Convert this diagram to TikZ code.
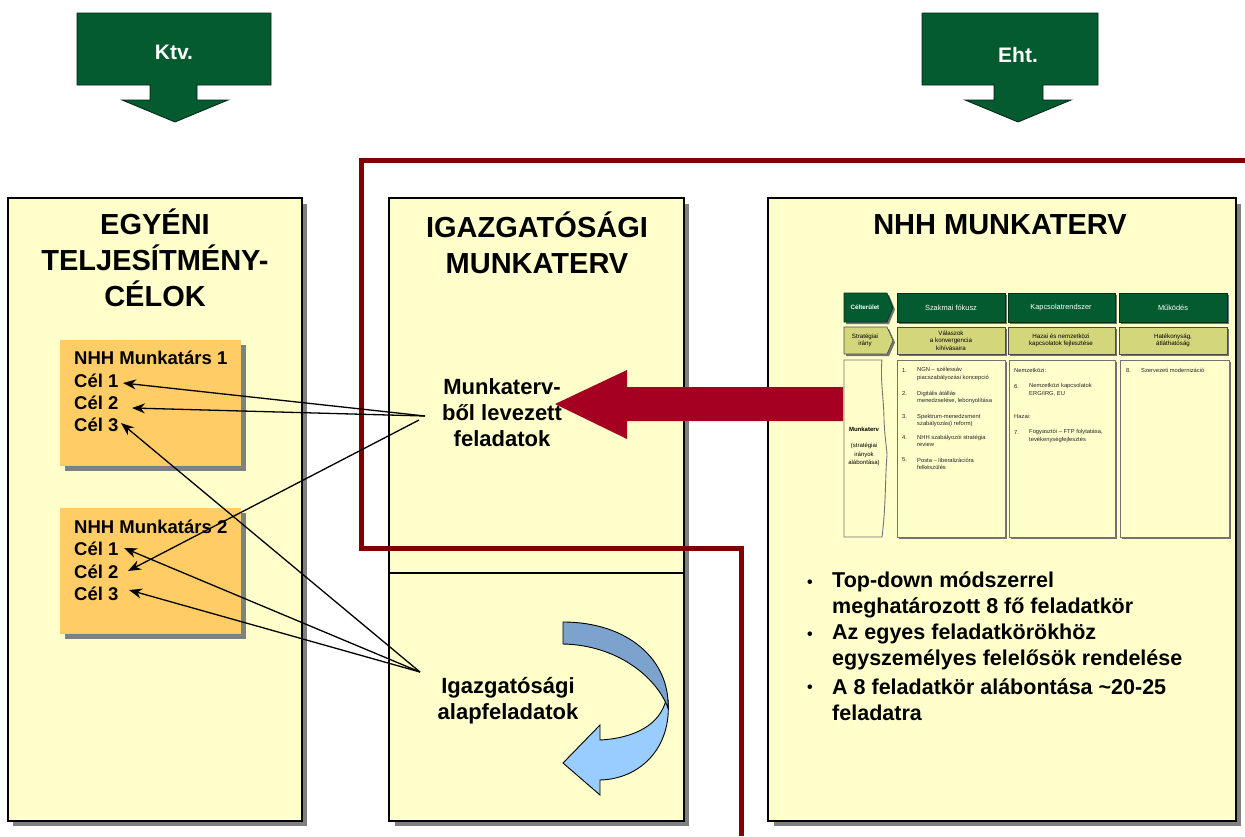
\documentclass[tikz,border=0pt]{standalone}
\usepackage{fontspec}
\setmainfont{Liberation Sans}
\usetikzlibrary{arrows.meta}
\definecolor{paleyellow}{HTML}{FFFFCC}
\definecolor{orangebox}{HTML}{FFCC66}
\definecolor{darkgreen}{HTML}{035B2F}
\definecolor{linered}{HTML}{800000}
\definecolor{arrowred}{HTML}{A50021}
\definecolor{shadowgray}{HTML}{808080}
\definecolor{olivecell}{HTML}{D4D67C}
\definecolor{bluedark}{HTML}{7BA3CD}
\definecolor{bluelight}{HTML}{99CCFF}
\begin{document}
\begin{tikzpicture}[x=1pt,y=-1pt,
  bigbox/.style={draw=black,line width=1.5pt,fill=paleyellow},
  shade/.style={fill=shadowgray},
  title/.style={font=\fontsize{29}{36}\selectfont\bfseries,align=center,inner sep=0pt},
  goal/.style={font=\fontsize{18.5}{22}\selectfont\bfseries,anchor=base west,inner sep=0pt},
  midtext/.style={font=\fontsize{22}{26}\selectfont\bfseries,align=center,inner sep=0pt},
  bullettext/.style={font=\fontsize{21.5}{26}\selectfont\bfseries,align=left,anchor=west,inner sep=0pt},
  bulletdot/.style={font=\fontsize{16}{16}\selectfont\bfseries,inner sep=0pt},
  lawarrow/.style={fill=darkgreen,draw=black!60!darkgreen,line width=0.8pt},
  lawtext/.style={font=\fontsize{21}{24}\selectfont\bfseries,text=white,inner sep=0pt},
  link/.style={line width=1.3pt,-{Stealth[length=13pt,width=10pt]}},
  tiny/.style={font=\fontsize{5.8}{7.6}\selectfont,inner sep=0pt,align=left,anchor=west,text=black!85},
  tinyc/.style={font=\fontsize{6.2}{7.6}\selectfont,inner sep=0pt,align=center},
  greencell/.style={fill=darkgreen,draw=black!50!darkgreen,line width=0.6pt},
  olivecellst/.style={fill=olivecell,draw=black!70,line width=0.6pt},
  bodycell/.style={fill=paleyellow,draw=black!55,line width=0.9pt},
  cellshadow/.style={fill=black!55},
]
\useasboundingbox (0,0) rectangle (1245,836);
\fill[white] (0,0) rectangle (1245,836);

% ---- law arrows on top
\draw[lawarrow] (77,13) -- (271,13) -- (271,85) -- (197,85) -- (197,100) -- (228,100)
  -- (175,122) -- (122,100) -- (150,100) -- (150,85) -- (77,85) -- cycle;
\node[lawtext] (ktv) at (174,52) {Ktv.};
\draw[lawarrow] (922,13) -- (1098,13) -- (1098,85) -- (1043,85) -- (1043,100) -- (1071,100)
  -- (1018,122) -- (965,100) -- (994,100) -- (994,85) -- (922,85) -- cycle;
\node[lawtext] (eht) at (1018,55) {Eht.};

% ---- big boxes with shadows
\fill[shade] (13,204) rectangle (307,826);
\draw[bigbox] (8,198) rectangle (302,821);
\fill[shade] (395,204) rectangle (689,826);
\draw[bigbox] (389,198) rectangle (684,821);
\draw[line width=1.5pt] (389,573) -- (684,573);
\fill[shade] (774,204) rectangle (1241,826);
\draw[bigbox] (768,198) rectangle (1236,821);

% ---- titles
\node[title] (t1) at (155,258) {EGYÉNI\\TELJESÍTMÉNY-\\CÉLOK};
\node[title] (t2) at (537,243) {IGAZGATÓSÁGI\\MUNKATERV};
\node[title] (t3) at (1000,225) {NHH MUNKATERV};

% ---- orange boxes
\fill[shade] (65,345) rectangle (246,471);
\fill[orangebox] (60,340) rectangle (241,466);
\fill[shade] (65,513) rectangle (246,639);
\fill[orangebox] (60,508) rectangle (241,634);

\node[goal] (m1) at (74,364.5) {NHH Munkatárs 1};
\node[goal] (c11) at (74,387.5) {Cél 1};
\node[goal] (c12) at (74,409.5) {Cél 2};
\node[goal] (c13) at (74,431.5) {Cél 3};
\node[goal] (m2) at (74,533.5) {NHH Munkatárs 2};
\node[goal] (c21) at (74,555.5) {Cél 1};
\node[goal] (c22) at (74,578.5) {Cél 2};
\node[goal] (c23) at (74,600.5) {Cél 3};

% ---- middle texts
\node[midtext] (mt) at (502,413) {Munkaterv-\\ből levezett\\feladatok};
\node[midtext] (alap) at (508,701) {Igazgatósági\\alapfeladatok};

% ---- curved arrow
\draw[fill=bluelight,line width=0.9pt] (668,700) .. controls (672,748) and (640,779) .. (600,780)
  -- (600,795) -- (563,763) -- (600,725) -- (600,740)
  .. controls (636,738) and (660,724) .. (666,700) -- cycle;
\draw[fill=bluedark,line width=0.9pt] (563,622) .. controls (628,622) and (670,660) .. (668,708)
  .. controls (656,676) and (616,645) .. (563,644) -- cycle;

% ---- table in NHH MUNKATERV
% row 1
\fill[cellshadow] (846,295) -- (889,295) -- (895,309.5) -- (889,324) -- (846,324) -- cycle;
\draw[greencell] (844,293) -- (887,293) -- (893,307.5) -- (887,322) -- (844,322) -- cycle;
\fill[cellshadow] (899,295) rectangle (1007,324);
\draw[greencell] (897,293) rectangle (1005,322);
\fill[cellshadow] (1010,295) rectangle (1117,324);
\draw[greencell] (1008,293) rectangle (1115,322);
\fill[cellshadow] (1121,295) rectangle (1229,324);
\draw[greencell] (1119,293) rectangle (1227,322);
\node[tinyc,text=white,font=\fontsize{6.2}{7.6}\selectfont\bfseries] (h0) at (865,307.5) {Célterület};
\node[tinyc,text=white,font=\fontsize{7.4}{9}\selectfont] (h1) at (951,307.5) {Szakmai fókusz};
\node[tinyc,text=white,font=\fontsize{7.4}{9}\selectfont] (h2) at (1061,307.5) {Kapcsolatrendszer};
\node[tinyc,text=white,font=\fontsize{7.4}{9}\selectfont] (h3) at (1173,307.5) {Működés};
% row 2
\fill[cellshadow] (846,329) -- (889,329) -- (895,342.5) -- (889,356) -- (846,356) -- cycle;
\draw[olivecellst] (844,327) -- (887,327) -- (893,340.5) -- (887,354) -- (844,354) -- cycle;
\fill[cellshadow] (899,329) rectangle (1007,356);
\draw[olivecellst] (897,327) rectangle (1005,354);
\fill[cellshadow] (1010,329) rectangle (1117,356);
\draw[olivecellst] (1008,327) rectangle (1115,354);
\fill[cellshadow] (1121,329) rectangle (1229,356);
\draw[olivecellst] (1119,327) rectangle (1227,354);
\node[tinyc] (s0) at (865,340.5) {Stratégiai\\irány};
\node[tinyc] (s1) at (951,340.5) {Válaszok\\a konvergencia\\kihívásaira};
\node[tinyc] (s2) at (1061,340.5) {Hazai és nemzetközi\\kapcsolatok fejlesztése};
\node[tinyc] (s3) at (1173,340.5) {Hatékonyság,\\átláthatóság};
% row 3
\draw[bodycell] (844,360) -- (882,360) .. controls (880,380) and (884,400) .. (884,420)
  .. controls (885,440) and (887,450) .. (887,455)
  .. controls (885,480) and (886,505) .. (882,537) -- (844,537) -- cycle;
\fill[cellshadow] (899,362) rectangle (1007,539);
\draw[bodycell] (897,360) rectangle (1005,537);
\fill[cellshadow] (1011,362) rectangle (1117,539);
\draw[bodycell] (1009,360) rectangle (1115,537);
\fill[cellshadow] (1122,362) rectangle (1231,539);
\draw[bodycell] (1120,360) rectangle (1229,537);
\node[tinyc,font=\fontsize{6}{8.2}\selectfont\bfseries] (w0) at (864,429) {Munkaterv};
\node[tinyc,font=\fontsize{6}{8.2}\selectfont] (w1) at (864,454.5) {(stratégiai\\irányok\\alábontása)};

\node[tiny] (n1) at (902,370) {1.};
\node[tiny] (i1) at (917,374) {NGN – szélessáv\\piacszabályozási koncepció};
\node[tiny] (n2) at (902,393) {2.};
\node[tiny] (i2) at (917,397.5) {Digitális átállás\\menedzselése, lebonyolítása};
\node[tiny] (n3) at (902,416) {3.};
\node[tiny] (i3) at (917,420.5) {Spektrum-menedzsment\\szabályozás(i reform)};
\node[tiny] (n4) at (902,437) {4.};
\node[tiny] (i4) at (917,441) {NHH szabályozói stratégia\\review};
\node[tiny] (n5) at (902,460) {5.};
\node[tiny] (i5) at (917,464) {Posta – liberalizációra\\felkészülés};

\node[tiny] (nk) at (1014,370) {Nemzetközi:};
\node[tiny] (n6) at (1014,386) {6.};
\node[tiny] (i6) at (1029,390) {Nemzetközi kapcsolatok\\ERG/IRG, EU};
\node[tiny] (hz) at (1014,416) {Hazai:};
\node[tiny] (n7) at (1014,432) {7.};
\node[tiny] (i7) at (1029,436) {Fogyasztói – FTP folytatása,\\tevékenységfejlesztés};

\node[tiny] (n8) at (1126,370) {8.};
\node[tiny] (i8) at (1141,370) {Szervezeti modernizáció};

% ---- bullets
\node[bulletdot] (b1) at (810,584) {•};
\node[bullettext] (bt1) at (832,594.5) {Top-down módszerrel\\meghatározott 8 fő feladatkör};
\node[bulletdot] (b2) at (810,636) {•};
\node[bullettext] (bt2) at (832,646.5) {Az egyes feladatkörökhöz\\egyszemélyes felelősök rendelése};
\node[bulletdot] (b3) at (810,689) {•};
\node[bullettext] (bt3) at (832,699.5) {A 8 feladatkör alábontása \textasciitilde20-25\\feladatra};

% ---- red frame line
\draw[linered,line width=5pt,line join=miter] (1245,160) -- (361,160) -- (361,548) -- (741,548) -- (741,836);

% ---- big red arrow
\fill[arrowred] (843,387) -- (627,387) -- (627,370) -- (555,404) -- (627,439) -- (627,421) -- (843,421) -- cycle;

% ---- links
\coordinate (src1) at (425,416);
\coordinate (src2) at (419,420);
\coordinate (src3) at (420,672);
\coordinate (a11) at (123,383);
\coordinate (a12) at (132,408);
\coordinate (a13) at (121,423);
\coordinate (a21) at (124,548);
\coordinate (a22) at (128,571);
\coordinate (a23) at (129,590);
\draw[link] (src1) -- (a11);
\draw[link] (src1) -- (a12);
\draw[link] (src2) -- (a22);
\draw[link] (src3) -- (a13);
\draw[link] (src3) -- (a21);
\draw[link] (src3) -- (a23);
\end{tikzpicture}
\end{document}
